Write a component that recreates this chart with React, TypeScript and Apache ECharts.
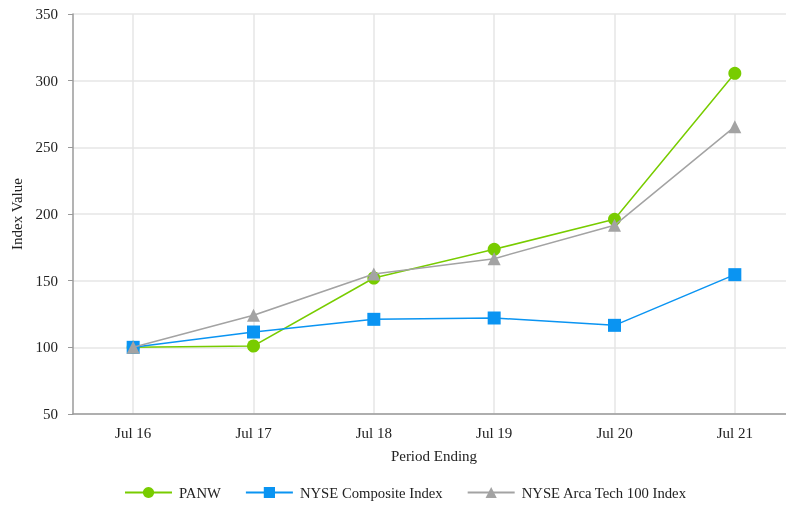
import React, { useEffect, useRef } from "react";
import * as echarts from "echarts";

const categories = ["Jul 16", "Jul 17", "Jul 18", "Jul 19", "Jul 20", "Jul 21"];
const panw = [100, 101, 152, 173.5, 196, 305.5];
const nyseComposite = [100, 111.5, 121, 122, 116.5, 154.5];
const arcaTech = [100, 124, 155, 166.5, 191.5, 265.5];
const seriesNames = ["PANW", "NYSE Composite Index", "NYSE Arca Tech 100 Index"];
const colors = ["#78cc00", "#0a94f2", "#a3a3a3"];
const symbols = ["circle", "rect", "triangle"];

const FONT = "'Liberation Serif', 'Times New Roman', serif";

export default function App() {
  const ref = useRef<HTMLDivElement>(null);
  useEffect(() => {
    if (!ref.current) return;
    const chart = echarts.init(ref.current, null, { renderer: "svg" });
    const values = [panw, nyseComposite, arcaTech];
    chart.setOption({
      animation: false,
      textStyle: { fontFamily: FONT },
      grid: { left: 73, top: 14, right: 5, bottom: 93, containLabel: false },
      legend: {
        bottom: 2,
        left: 119,
        itemWidth: 47,
        itemHeight: 14,
        itemGap: 24,
        textStyle: { fontFamily: FONT, fontSize: 14.7, color: "#222", padding: [0, 0, 0, 2] },
        data: seriesNames,
      },
      xAxis: {
        type: "category",
        data: categories,
        boundaryGap: true,
        name: "Period Ending",
        nameLocation: "middle",
        nameGap: 34,
        nameTextStyle: { fontFamily: FONT, fontSize: 15, color: "#222" },
        axisLine: { lineStyle: { color: "#9a9a9a", width: 1.5 } },
        axisTick: { alignWithLabel: true, length: 5, lineStyle: { color: "#9a9a9a" } },
        axisLabel: { fontFamily: FONT, fontSize: 15, color: "#222", margin: 11 },
        splitLine: { show: false },
      },
      yAxis: {
        type: "value",
        min: 50,
        max: 350,
        interval: 50,
        name: "Index Value",
        nameLocation: "middle",
        nameGap: 48,
        nameTextStyle: { fontFamily: FONT, fontSize: 15, color: "#222" },
        axisLine: { show: true, lineStyle: { color: "#9a9a9a", width: 1.5 } },
        axisTick: { show: true, length: 5, lineStyle: { color: "#9a9a9a" } },
        axisLabel: { fontFamily: FONT, fontSize: 15, color: "#222", margin: 15 },
        splitLine: { show: true, lineStyle: { color: "#e6e6e6", width: 1.5 } },
      },
      series: seriesNames.map((name, i) => ({
        name,
        type: "line",
        data: values[i],
        symbol: symbols[i],
        symbolSize: 13,
        z: 3 + i,
        itemStyle: { color: colors[i] },
        lineStyle: { color: colors[i], width: 1.5 },
        markLine:
          i === 0
            ? {
                silent: true,
                symbol: "none",
                label: { show: false },
                z: 0,
                lineStyle: { color: "#e6e6e6", width: 1.5, type: "solid" },
                data: categories.map((c) => ({ xAxis: c })),
              }
            : undefined,
      })),
    });
    return () => chart.dispose();
  }, []);
  return (
    <div
      style={{
        position: "fixed",
        left: 0,
        top: 0,
        width: 786,
        height: 507,
        overflow: "hidden",
      }}
    >
      <div ref={ref} style={{ width: 800, height: 507 }} />
    </div>
  );
}
